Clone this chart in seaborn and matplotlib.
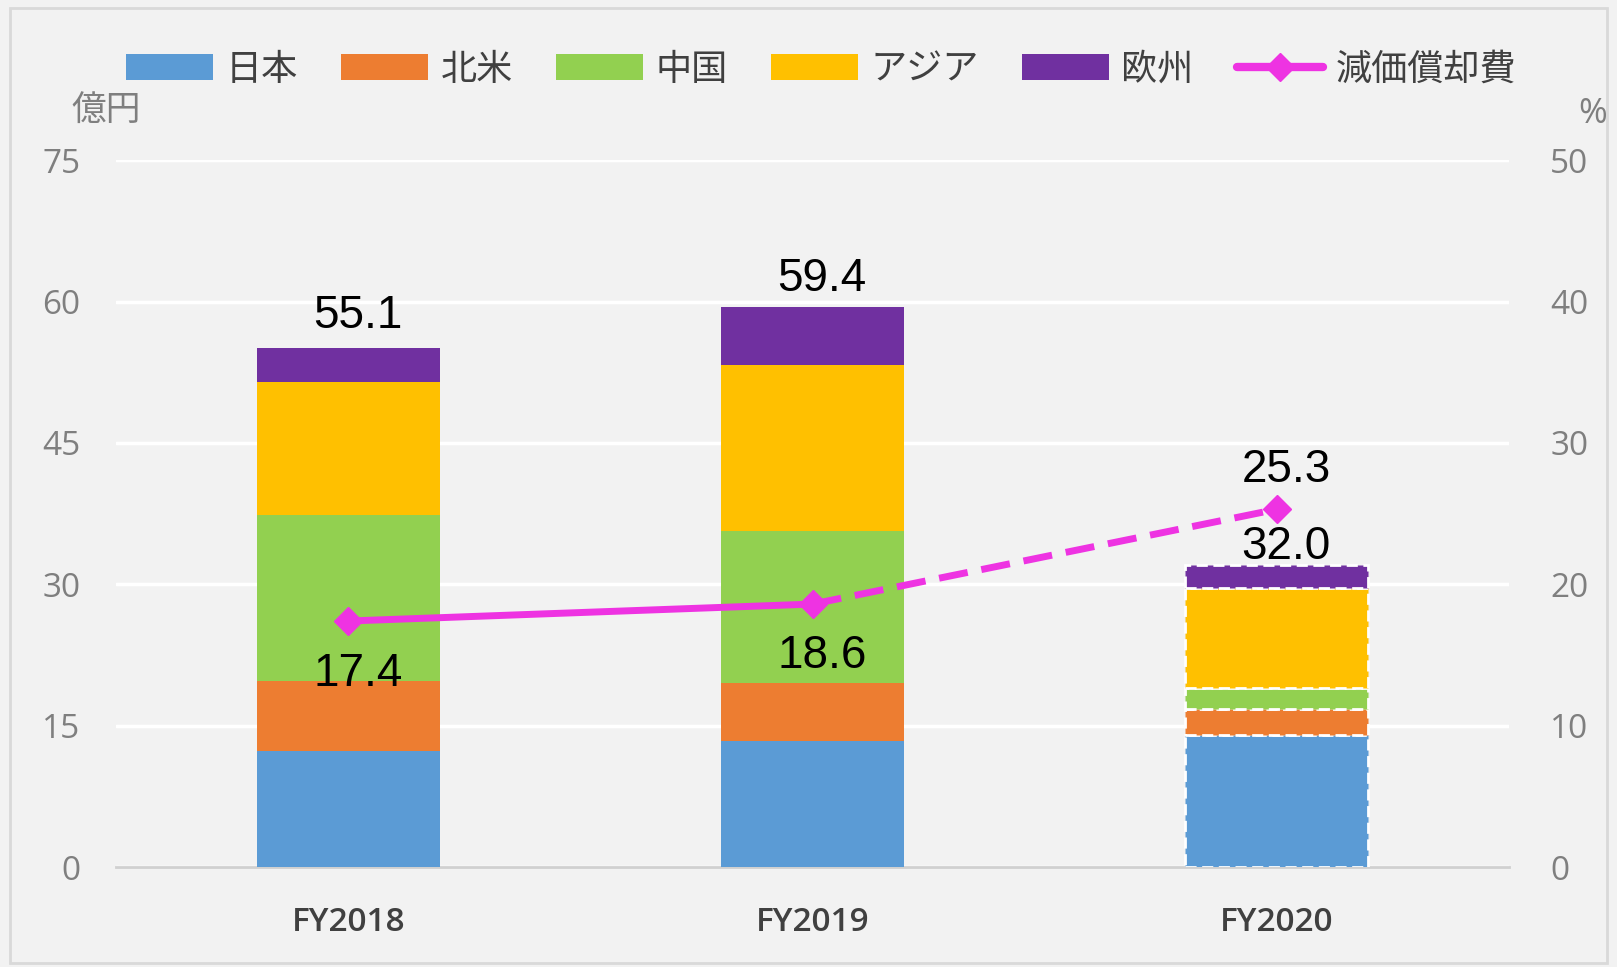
import matplotlib
matplotlib.use("Agg")
import matplotlib.pyplot as plt
import seaborn as sns
import numpy as np
import pandas as pd
from matplotlib.patches import Patch, Rectangle
from matplotlib.lines import Line2D

years = ["FY2018", "FY2019", "FY2020"]
regions = ["日本", "北米", "中国", "アジア", "欧州"]
japan = [12.3, 13.4, 14.0]
north_america = [7.4, 6.1, 2.8]
china = [17.7, 16.2, 2.2]
asia = [14.1, 17.6, 10.6]
europe = [3.6, 6.1, 2.4]
totals = [55.1, 59.4, 32.0]
depreciation = [17.4, 18.6, 25.3]
left_ticks = [0, 15, 30, 45, 60, 75]
right_ticks = [0, 10, 20, 30, 40, 50]

colors = ["#5B9BD5", "#ED7D31", "#92D050", "#FFC000", "#7030A0"]
line_color = "#EE33E2"

sns.set_theme(style="white")
plt.rcParams['font.family'] = ['Noto Sans CJK JP', 'DejaVu Sans']

fig = plt.figure(figsize=(16.17, 9.67), dpi=100)
fig.patch.set_facecolor("#F2F2F2")
fig.patches.append(Rectangle((0.006, 0.004), 0.988, 0.988, transform=fig.transFigure,
                             fill=False, edgecolor="#D9D9D9", linewidth=2))
ax = fig.add_axes([0.072, 0.1034, 0.861, 0.731])
ax.set_facecolor("#F2F2F2")

series = [japan, north_america, china, asia, europe]
bottom = np.zeros(len(years))
for name, vals, c in zip(regions, series, colors):
    vals = np.array(vals)
    df = pd.DataFrame({"year": years, "val": vals})
    sns.barplot(data=df, x="year", y="val", color=c, width=0.395, bottom=bottom,
                ax=ax, saturation=1, linewidth=0, zorder=3)
    bottom = bottom + vals

# Forecast bars (FY2020) get dashed white edges
for p in ax.patches:
    cx = p.get_x() + p.get_width() / 2
    if abs(cx - 2) < 0.3:
        p.set_edgecolor("white")
        p.set_linestyle((0, (4, 2)))
        p.set_linewidth(2)

ax.set_xlim(-0.5, 2.5)
ax.set_ylim(0, 75)
ax.set_yticks(left_ticks)
ax.yaxis.grid(True, color="white", linewidth=2.5, zorder=0)
ax.set_axisbelow(True)
for s in ["top", "right", "left"]:
    ax.spines[s].set_visible(False)
ax.spines["bottom"].set_color("#D0D0D0")
ax.spines["bottom"].set_linewidth(2)
ax.tick_params(axis="y", length=0, labelsize=24, labelcolor="#7F7F7F", pad=26)
ax.tick_params(axis="x", length=0, labelsize=24, labelcolor="#404040", pad=28)
for t in ax.get_xticklabels():
    t.set_family("Open Sans")
    t.set_fontweight("semibold")
for t in ax.get_yticklabels():
    t.set_family("Open Sans")
ax.set_xlabel("")
ax.set_ylabel("")

total_offsets = [1.0, 0.7, -0.4]
for i, (tot, o) in enumerate(zip(totals, total_offsets)):
    ax.text(i + 0.02, tot + o, f"{tot:.1f}", ha="center", va="bottom",
            fontsize=33, color="black", family="Liberation Sans", zorder=6)

ax2 = ax.twinx()
ax2.set_ylim(0, 50)
ax2.set_yticks(right_ticks)
for s in ["top", "right", "left", "bottom"]:
    ax2.spines[s].set_visible(False)
ax2.tick_params(axis="y", length=0, labelsize=24, labelcolor="#7F7F7F", pad=30)
for t in ax2.get_yticklabels():
    t.set_family("Open Sans")

xs = np.arange(len(years))
df_solid = pd.DataFrame({"x": xs[:2], "y": depreciation[:2]})
df_dash = pd.DataFrame({"x": xs[1:], "y": depreciation[1:]})
sns.lineplot(data=df_solid, x="x", y="y", ax=ax2, color=line_color, linewidth=5, zorder=5)
sns.lineplot(data=df_dash, x="x", y="y", ax=ax2, color=line_color, linewidth=5,
             linestyle=(0, (4.2, 2.0)), zorder=5)
ax2.plot(xs, depreciation, linestyle="none", marker="D", markersize=14,
         color=line_color, zorder=6)
ax2.set_xlabel("")
ax2.set_ylabel("")
ax2.set_xlim(-0.5, 2.5)

offsets = [-2.2, -2.1, 1.2]
vas = ["top", "top", "bottom"]
for i, (v, o, va) in enumerate(zip(depreciation, offsets, vas)):
    ax2.text(i + 0.02, v + o, f"{v:.1f}", ha="center", va=va, fontsize=33,
             color="black", family="Liberation Sans", zorder=7)

fig.text(0.044, 0.885, "億円", fontsize=25, color="#7F7F7F", ha="left", va="center")
fig.text(0.976, 0.882, "%", fontsize=25, color="#7F7F7F", ha="left", va="center",
         family="Open Sans")

handles = [Patch(facecolor=c, edgecolor="none") for c in colors]
handles.append(Line2D([0], [0], color=line_color, linewidth=6, marker="D", markersize=14))
labels = regions + ["減価償却費"]
leg = fig.legend(handles, labels, loc="center", bbox_to_anchor=(0.508, 0.928), ncol=6,
                 frameon=False, fontsize=26, handlelength=2.4, handleheight=0.7,
                 handletextpad=0.35, columnspacing=1.2)
for t in leg.get_texts():
    t.set_color("#404040")

fig.savefig("out.png", dpi=100, facecolor=fig.get_facecolor())
